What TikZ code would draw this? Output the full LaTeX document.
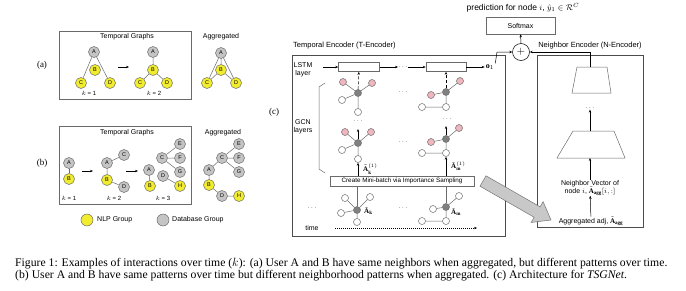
\documentclass[tikz,border=0pt]{standalone}
\usepackage{fontspec}
\setmainfont{Liberation Serif}
\setsansfont{Liberation Sans}
\usetikzlibrary{calc,arrows.meta}
\definecolor{nyel}{HTML}{F2EC2E}
\definecolor{ngray}{HTML}{C4C4C4}
\definecolor{npink}{HTML}{F0B6BE}
\definecolor{ndark}{HTML}{808080}
\definecolor{bord}{HTML}{6A6A6A}
\definecolor{bigarrow}{HTML}{C8C8C8}
\begin{document}
\begin{tikzpicture}[x=1pt,y=-1pt,
  lbl/.style={font=\sffamily\fontsize{7}{8}\selectfont, inner sep=0pt},
  ttl/.style={font=\sffamily\fontsize{7.5}{8}\selectfont, inner sep=0pt},
  sm/.style={font=\sffamily\fontsize{6}{7}\selectfont, inner sep=0pt},
  yn/.style={circle, draw=bord, line width=0.5pt, fill=nyel, minimum size=11pt, inner sep=0pt, font=\sffamily\fontsize{5.5}{5.5}\selectfont},
  gn/.style={yn, fill=ngray},
  pk/.style={circle, draw=bord, line width=0.5pt, fill=npink, minimum size=7pt, inner sep=0pt},
  wn/.style={pk, fill=white},
  dk/.style={pk, fill=ndark},
  edge/.style={draw=bord, line width=0.5pt},
  frame/.style={draw=bord, line width=0.7pt},
  arr/.style={draw=black, line width=0.5pt, -{Stealth[length=3pt,width=2.4pt]}},
  darr/.style={arr, densely dashed},
  panel/.style={font=\fontsize{9}{10}\selectfont, inner sep=0pt},
  dts/.style={font=\fontsize{6}{6}\selectfont, inner sep=0pt},
  mlbl/.style={font=\fontsize{7}{8}\selectfont, inner sep=0pt, anchor=west},
  captext/.style={font=\fontsize{11.7}{12}\selectfont, inner sep=0pt, anchor=base west}
]
\useasboundingbox (0,0) rectangle (686,290);

% ---------------- panel (a) ----------------
\node[panel] (pa) at (42,65) {(a)};
\node[frame, minimum width=132pt, minimum height=68pt, inner sep=0pt] (boxa) at (125,65) {};
\node[lbl] (ta) at (127,37) {Temporal Graphs};
\node[lbl] (aga) at (221,37) {Aggregated};
% k=1
\node[gn] (a1A) at (94,52) {A};
\node[yn] (a1B) at (95,70) {B};
\node[yn] (a1C) at (81,83) {C};
\node[yn] (a1D) at (110,83) {D};
\path[edge] (a1A) -- (a1C) (a1A) -- (a1D);
\node[sm] (ka1) at (89,93) {$k$ = 1};
\coordinate (aa1) at (118,67); \coordinate (aa2) at (129,67);
\draw[arr] (aa1) -- (aa2);
% k=2
\node[gn] (a2A) at (153,52) {A};
\node[yn] (a2B) at (153,70) {B};
\node[yn] (a2C) at (140,83) {C};
\node[yn] (a2D) at (167,83) {D};
\path[edge] (a2A) -- (a2B) (a2B) -- (a2C) (a2B) -- (a2D);
\node[sm] (ka2) at (154,93) {$k$ = 2};
% aggregated
\node[gn] (agA) at (221,53) {A};
\node[yn] (agB) at (221,70) {B};
\node[yn] (agC) at (207,83) {C};
\node[yn] (agD) at (236,83) {D};
\path[edge] (agA) -- (agB) (agA) -- (agC) (agA) -- (agD) (agB) -- (agC) (agB) -- (agD);

% ---------------- panel (b) ----------------
\node[panel] (pb) at (42,163) {(b)};
\node[frame, minimum width=132pt, minimum height=78pt, inner sep=0pt] (boxb) at (125,165) {};
\node[lbl] (tb) at (127,133) {Temporal Graphs};
\node[lbl] (agb) at (223,133) {Aggregated};
% k=1
\node[gn] (b1A) at (69,163) {A};
\node[yn] (b1B) at (69,179) {B};
\path[edge] (b1A) -- (b1B);
\node[sm] (kb1) at (69,198) {$k$ = 1};
\coordinate (ba1) at (82,171); \coordinate (ba2) at (93,171);
\draw[arr] (ba1) -- (ba2);
% k=2
\node[gn] (b2A) at (107,163) {A};
\node[gn] (b2C) at (124,155) {C};
\node[yn] (b2B) at (107,180) {B};
\node[gn] (b2D) at (124,187) {D};
\path[edge] (b2A) -- (b2C) (b2A) -- (b2B) (b2B) -- (b2D);
\node[sm] (kb2) at (114,198) {$k$ = 2};
\coordinate (bb1) at (126,171); \coordinate (bb2) at (138,171);
\draw[arr] (bb1) -- (bb2);
% k=3
\node[gn] (b3C) at (162,158) {C};
\node[gn] (b3E) at (180,144) {E};
\node[gn] (b3F) at (180,158) {F};
\node[gn] (b3G) at (180,172) {G};
\node[gn] (b3A) at (149,170) {A};
\node[yn] (b3B) at (150,186) {B};
\node[gn] (b3D) at (163,176) {D};
\node[yn] (b3H) at (180,186) {H};
\path[edge] (b3A) -- (b3B) (b3C) -- (b3E) (b3C) -- (b3F) (b3C) -- (b3G) (b3D) -- (b3H);
\node[sm] (kb3) at (163,198) {$k$ = 3};
% aggregated
\node[gn] (bgE) at (239,144) {E};
\node[gn] (bgC) at (222,158) {C};
\node[gn] (bgF) at (239,158) {F};
\node[gn] (bgG) at (239,172) {G};
\node[gn] (bgA) at (209,170) {A};
\node[yn] (bgB) at (209,185) {B};
\node[gn] (bgD) at (222,196) {D};
\node[yn] (bgH) at (239,196) {H};
\path[edge] (bgA) -- (bgC) (bgC) -- (bgE) (bgC) -- (bgF) (bgC) -- (bgG) (bgA) -- (bgB) (bgB) -- (bgD) (bgD) -- (bgH);
% legend
\node[yn, minimum size=12pt] (legy) at (87,220) {};
\node[lbl, anchor=west] (legyt) at (97,220) {NLP Group};
\node[gn, minimum size=12pt] (legg) at (163,220) {};
\node[lbl, anchor=west] (leggt) at (172,220) {Database Group};

% ---------------- panel (c) ----------------
\node[panel] (pc) at (274,112) {(c)};
\node[frame, draw=black!70, minimum width=213pt, minimum height=181pt, inner sep=0pt] (tbox) at (398.5,145.5) {};
\node[ttl, anchor=west] (ttitle) at (293,46) {Temporal Encoder (T-Encoder)};
\node[frame, draw=black!70, minimum width=106pt, minimum height=172pt, inner sep=0pt] (nbox) at (590,141) {};
\node[ttl] (ntitle) at (590,46) {Neighbor Encoder (N-Encoder)};

% LSTM row
\node[lbl, align=center] (lstm) at (303,70) {LSTM\\layer};
\node[draw=bord, line width=0.5pt, minimum width=41pt, minimum height=9pt, inner sep=0pt] (L1) at (359,67) {};
\node[draw=bord, line width=0.5pt, minimum width=40pt, minimum height=9pt, inner sep=0pt] (L2) at (446,67) {};
\coordinate (lin) at (323,67);
\draw[arr] (lin) -- (L1);
\node[dts] (ld) at (403,67) {$\cdots$};
\draw[arr] (L1) -- (ld);
\draw[arr] (ld) -- (L2);
\node[inner sep=1pt, font=\fontsize{8}{9}\selectfont] (o1) at (490,67) {$\mathbf{o}_1$};
\draw[arr] (L2) -- (o1);

% plus and softmax
\node[circle, draw=black, line width=0.5pt, minimum size=17pt, inner sep=0pt, font=\fontsize{11}{11}\selectfont] (plus) at (521,52) {$+$};
\node[draw=bord, line width=0.5pt, minimum width=69pt, minimum height=17pt, inner sep=0pt, lbl] (soft) at (520.5,25.5) {Softmax};
\draw[arr] (plus) -- (soft);
\node[inner sep=0pt, font=\sffamily\fontsize{8.5}{9}\selectfont] (pred) at (523,8) {prediction for node $i$, $\hat{y}_1\in\mathcal{R}^C$};
\coordinate (okink) at (497,52);
\draw[arr] (o1.north east) -- (okink) -- (plus);

% N-encoder internals
\coordinate (t1tl) at (577,67); \coordinate (t1tr) at (607,67);
\coordinate (t1br) at (611,93); \coordinate (t1bl) at (572,93);
\draw[edge] (t1tl) -- (t1tr) -- (t1br) -- (t1bl) -- cycle;
\coordinate (t1top) at (590,67); \coordinate (t1bot) at (590,93);
\coordinate (nkink) at (590,52);
\draw[arr] (t1top) -- (nkink) -- (plus);
\node[dts] (nd) at (590,108) {$\cdots$};
\coordinate (t2tl) at (573,131); \coordinate (t2tr) at (614,131);
\coordinate (t2br) at (625,158); \coordinate (t2bl) at (557,158);
\draw[edge] (t2tl) -- (t2tr) -- (t2br) -- (t2bl) -- cycle;
\coordinate (t2top) at (590,131); \coordinate (t2bot) at (590,158);
\draw[arr] (t2top) -- (nd);
\node[lbl, align=center] (nvec) at (590,188) {Neighbor Vector of\\node $i$, $\tilde{\mathbf{A}}_{\mathbf{agg}}[i,:]$};
\draw[arr] (nvec) -- (t2bot);
\node[lbl] (aggadj) at (591,221) {Aggregated adj, $\tilde{\mathbf{A}}_{\mathbf{agg}}$};
\draw[arr] (aggadj) -- (nvec);

% big gray arrow
\coordinate (ga) at (483,181); \coordinate (gb) at (551,220);
\coordinate (gh) at ($(gb)!16pt!(ga)$);
\draw[draw=black!55, fill=bigarrow, line width=0.5pt]
  ($(ga)!6pt!90:(gb)$) -- ($(gh)!6pt!-90:(ga)$) -- ($(gh)!12pt!-90:(ga)$) -- (gb) --
  ($(gh)!12pt!90:(ga)$) -- ($(gh)!6pt!90:(ga)$) -- ($(ga)!6pt!-90:(gb)$) -- cycle;

% GCN bracket and label
\node[lbl, align=center] (gcn) at (303,127) {GCN\\layers};
\coordinate (br1) at (325,83); \coordinate (br2) at (319,87);
\coordinate (br3) at (319,169); \coordinate (br4) at (325,173);
\draw[edge] (br1) -- (br2) -- (br3) -- (br4);

% column 1, top GCN graph
\node[dk] (g1c) at (358,93) {};
\node[pk] (g1p1) at (343,82) {};
\node[pk] (g1p2) at (372,83) {};
\node[wn] (g1w1) at (342,100) {};
\node[wn] (g1w2) at (358,112) {};
\path[edge] (g1c) -- (g1p1) (g1c) -- (g1p2) (g1c) -- (g1w1) (g1c) -- (g1w2);
\draw[darr] (g1c) -- (L1);
\node[dts] (c1d) at (358,121) {$\cdots$};
% column 1, middle GCN graph
\node[dk] (h1c) at (358,143) {};
\node[pk] (h1p1) at (345,132) {};
\node[pk] (h1p2) at (371,132) {};
\node[wn] (h1w1) at (342,150) {};
\node[wn] (h1w2) at (358,159) {};
\path[edge] (h1c) -- (h1p1) (h1c) -- (h1p2) (h1c) -- (h1w1) (h1c) -- (h1w2);
\coordinate (h1up) at (358,129);
\draw[arr] (h1c) -- (h1up);
% mini-batch box
\node[draw=bord, line width=0.5pt, fill=white, minimum width=144pt, minimum height=10pt, inner sep=0pt, font=\sffamily\fontsize{6.3}{7}\selectfont] (mb) at (402,181) {Create Mini-batch via Importance Sampling};
\draw[arr] (mb.north -| h1w2) -- (h1w2);
\node[mlbl] (lk1) at (363,169) {$\tilde{\mathbf{A}}^{(1)}_{\mathbf{k}}$};
% column 1, bottom graph
\node[dk] (b1c) at (357,210) {};
\node[wn] (b1w1) at (345,198) {};
\node[wn] (b1w2) at (370,197) {};
\node[wn] (b1w3) at (341,213) {};
\node[wn] (b1w4) at (357,222) {};
\path[edge] (b1c) -- (b1w1) (b1c) -- (b1w2) (b1c) -- (b1w3) (b1c) -- (b1w4);
\draw[edge] (b1c) -- (mb.south -| b1c);
\node[mlbl] (lk) at (364,211) {$\tilde{\mathbf{A}}_{\mathbf{k}}$};

% column 2, top GCN graph
\node[dk] (g2c) at (446,92) {};
\node[pk] (g2p1) at (460,81) {};
\node[pk] (g2p2) at (431,95) {};
\node[wn] (g2w1) at (422,107) {};
\node[wn] (g2w2) at (446,107) {};
\path[edge] (g2c) -- (g2p1) (g2c) -- (g2p2) (g2c) -- (g2w2) (g2w1) -- (g2w2);
\draw[darr] (g2c) -- (L2);
\node[dts] (c2d) at (447,119) {$\cdots$};
% column 2, middle
\node[dk] (h2c) at (446,139) {};
\node[pk] (h2p1) at (459,128) {};
\node[pk] (h2p2) at (431,142) {};
\node[wn] (h2w1) at (422,153) {};
\node[wn] (h2w2) at (446,153) {};
\path[edge] (h2c) -- (h2p1) (h2c) -- (h2p2) (h2c) -- (h2w2) (h2w1) -- (h2w2);
\coordinate (h2up) at (446,126);
\draw[arr] (h2c) -- (h2up);
\draw[arr] (mb.north -| h2w2) -- (h2w2);
\node[mlbl] (lm1) at (451,166) {$\tilde{\mathbf{A}}^{(1)}_{\mathbf{m}}$};
% column 2, bottom
\node[dk] (b2c) at (446,207) {};
\node[wn] (b2w1) at (459,196) {};
\node[wn] (b2w2) at (433,209) {};
\node[wn] (b2w3) at (422,221) {};
\node[wn] (b2w4) at (446,221) {};
\path[edge] (b2c) -- (b2w1) (b2c) -- (b2w2) (b2c) -- (b2w4) (b2w3) -- (b2w4);
\draw[edge] (b2c) -- (mb.south -| b2c);
\node[mlbl] (lm) at (451,212) {$\tilde{\mathbf{A}}_{\mathbf{m}}$};

% dots between columns
\node[dts] (dd1) at (403,92) {$\cdots$};
\node[dts] (dd2) at (403,142) {$\cdots$};
\node[dts] (dd3) at (403,208) {$\cdots$};
\node[dts] (dd0) at (312,208) {$\cdots$};

% time axis
\node[lbl] (time) at (312,228) {time};
\coordinate (tstart) at (335,228);
\coordinate (tend) at (477,228);
\draw[arr, dash pattern=on 1pt off 1pt] (tstart) -- (tend);

% ---------------- caption ----------------
\node[captext] (cap1) at (15,266) {Figure 1: Examples of interactions over time ($k$): (a) User A and B have same neighbors when aggregated, but different patterns over time.};
\node[captext] (cap2) at (15,278) {(b) User A and B have same patterns over time but different neighborhood patterns when aggregated. (c) Architecture for \textit{TSGNet}.};
\end{tikzpicture}
\end{document}
